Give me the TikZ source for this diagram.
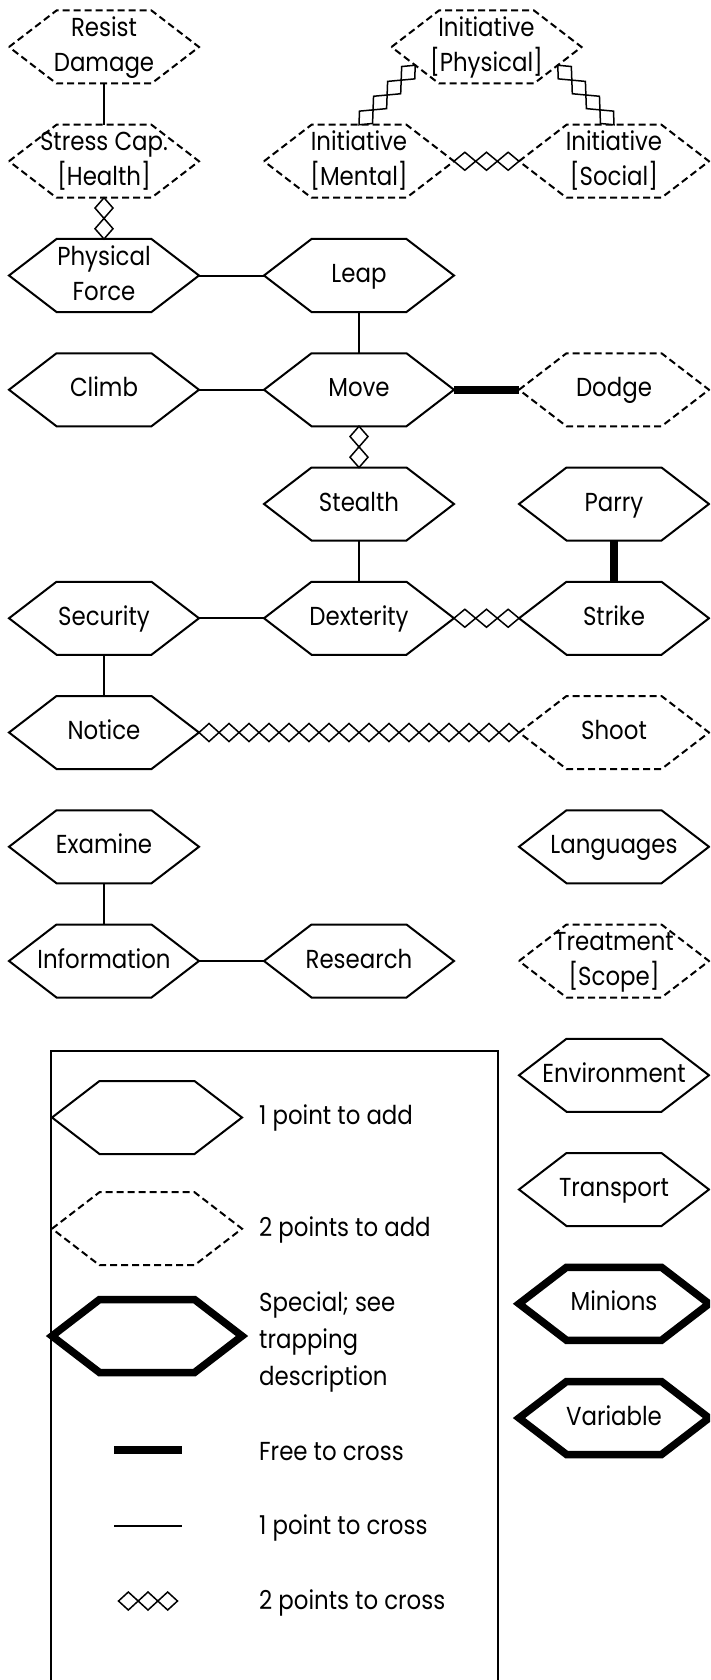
\documentclass[tikz,border=0pt]{standalone}
\usepackage{fontspec}
\setmainfont{Poppins}[FakeStretch=0.88]
\usetikzlibrary{matrix,calc,positioning,decorations.markings}
\tikzset{
  hexcell/.style={rectangle, anchor=center, minimum width=190pt, minimum height=73pt,
    inner sep=0pt, outer sep=0pt, execute at begin node=\strut},
  hexoutline/.style={insert path={(#1.west) -- ([xshift=47.5pt]#1.north west)
    -- ([xshift=-47.5pt]#1.north east) -- (#1.east) -- ([xshift=-47.5pt]#1.south east)
    -- ([xshift=47.5pt]#1.south west) -- cycle}},
  addone/.style={line width=2pt, line join=miter},
  addtwo/.style={line width=2pt, dash pattern=on 7pt off 4pt},
  special/.style={line width=7.5pt, line join=miter},
  freecross/.style={line width=7.5pt},
  onecross/.style={line width=2pt},
  twocross/.style={decorate, decoration={markings,
    mark=between positions {1/(2*#1)} and 1 step {1/#1} with {
      \pgfmathsetlengthmacro\dhalf{\pgfdecoratedpathlength/(2*#1)}
      \draw[line width=1.5pt, fill=white] (-\dhalf,0) -- (0,9pt) -- (\dhalf,0) -- (0,-9pt) -- cycle;}}},
  keyframe/.style={line width=2.2pt},
  keytext/.style={anchor=west, inner sep=0pt, execute at begin node=\strut}
}
\newcommand\hexlines[2]{\begin{tabular}{@{}c@{}}#1\\\relax #2\end{tabular}}

\begin{document}
\begin{tikzpicture}[x=1pt, y=-1pt, font=\fontsize{26}{35}\selectfont]
  \useasboundingbox (0,0) rectangle (710,1680);
  \clip (0,0) rectangle (710,1680);
  \matrix (grid) [matrix of nodes, nodes={hexcell}, column sep=65pt, row sep=41.25pt,
      inner sep=0pt, outer sep=0pt, matrix anchor=north west] at (9,10.5) {
    |(resist)| \hexlines{Resist}{Damage} \\
    |(stress)| \hexlines{Stress Cap.}{[Health]} & |(initmental)| \hexlines{Initiative}{[Mental]} & |(initsocial)| \hexlines{Initiative}{[Social]} \\
    |(physforce)| \hexlines{Physical}{Force} & |(leap)| Leap \\
    |(climb)| Climb & |(move)| Move & |(dodge)| Dodge \\
    & |(stealth)| Stealth & |(parry)| Parry \\
    |(security)| Security & |(dexterity)| Dexterity & |(strike)| Strike \\
    |(notice)| Notice & & |(shoot)| Shoot \\
    |(examine)| Examine & & |(languages)| Languages \\
    |(information)| Information & |(research)| Research & |(treatment)| \hexlines{Treatment}{[Scope]} \\
    & & |(environment)| Environment \\
    & & |(transport)| Transport \\
    & & |(minions)| Minions \\
    & & |(variable)| Variable \\
  };
  \node[hexcell] (initphysical) at ($(resist -| initmental)!.5!(resist -| initsocial)$) {\hexlines{Initiative}{[Physical]}};
  \coordinate (physlowleft) at ($(initphysical.west)!.5!([xshift=47.5pt]initphysical.south west)$);
  \coordinate (physlowright) at ($(initphysical.east)!.5!([xshift=-47.5pt]initphysical.south east)$);

  \draw[keyframe] (51,1051) rectangle (498,1720);
  \node[hexcell] (keyone) at (147,1117.5) {};
  \node[hexcell] (keytwo) at (147,1228.7) {};
  \node[hexcell] (keyspecial) at (147,1336) {};
  \node[keytext] (keyonetext) at (259,1117.5) {1 point to add};
  \node[keytext] (keytwotext) at (259,1229.7) {2 points to add};
  \node[keytext] (keyspecialtext) at (259,1341) {\renewcommand\arraystretch{1.07}%
    \begin{tabular}{@{}l@{}}Special; see\\trapping\\description\end{tabular}};
  \node[keytext] (freetext) at (259,1453) {Free to cross};
  \node[keytext] (onetext) at (259,1527) {1 point to cross};
  \node[keytext] (twotext) at (259,1602) {2 points to cross};
  \coordinate (freeA) at (114,1450);
  \coordinate (freeB) at (182,1450);
  \coordinate (oneA) at (114,1526);
  \coordinate (oneB) at (182,1526);
  \coordinate (twoA) at (118.5,1601);
  \coordinate (twoB) at (177.5,1601);

  \foreach \n in {physforce,leap,climb,move,stealth,parry,security,dexterity,strike,notice,
      examine,information,research,languages,environment,transport,keyone}
    \draw[addone, hexoutline=\n];
  \foreach \n in {resist,stress,initphysical,initmental,initsocial,dodge,shoot,treatment,keytwo}
    \draw[addtwo, hexoutline=\n];
  \foreach \n in {minions,variable,keyspecial}
    \draw[special, hexoutline=\n];

  \draw[onecross] (resist) -- (stress);
  \path[twocross=2] (stress) -- (physforce);
  \path[twocross=4] (initmental.north) -- (physlowleft);
  \path[twocross=4] (initsocial.north) -- (physlowright);
  \path[twocross=3] (initmental) -- (initsocial);
  \draw[onecross] (physforce) -- (leap);
  \draw[onecross] (leap) -- (move);
  \draw[onecross] (climb) -- (move);
  \draw[freecross] (move) -- (dodge);
  \path[twocross=2] (move) -- (stealth);
  \draw[onecross] (stealth) -- (dexterity);
  \draw[freecross] (parry) -- (strike);
  \draw[onecross] (security) -- (dexterity);
  \path[twocross=3] (dexterity) -- (strike);
  \draw[onecross] (security) -- (notice);
  \path[twocross=16] (notice) -- (shoot);
  \draw[onecross] (examine) -- (information);
  \draw[onecross] (information) -- (research);
  \draw[freecross] (freeA) -- (freeB);
  \draw[onecross] (oneA) -- (oneB);
  \path[twocross=3] (twoA) -- (twoB);
\end{tikzpicture}
\end{document}
